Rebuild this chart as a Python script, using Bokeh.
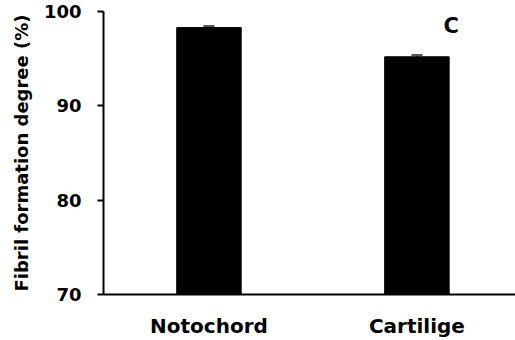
from bokeh.plotting import figure
from bokeh.models import ColumnDataSource, Whisker, TeeHead, FixedTicker, Label, Range1d
from bokeh.embed import file_html
from bokeh.resources import INLINE

# Data
categories = ["Notochord", "Cartilige"]
positions = [1, 2]
values = [98.3, 95.2]
errors = [0.15, 0.2]
y_ticks = [70, 80, 90, 100]

src = ColumnDataSource(dict(
    x=positions,
    top=values,
    lower=[v - e for v, e in zip(values, errors)],
    upper=[v + e for v, e in zip(values, errors)],
))

FONT = "DejaVu Sans"

p = figure(width=515, height=340, output_backend="svg", toolbar_location=None,
           x_range=Range1d(0.493, 2.474), y_range=Range1d(70, 100),
           min_border_left=103, min_border_right=0, min_border_top=11,
           min_border_bottom=46)
p.outline_line_color = None
p.grid.grid_line_color = None
p.background_fill_color = "white"

p.vbar(x="x", top="top", bottom=70, width=0.31, source=src,
       fill_color="black", line_color="black")

eb = Whisker(base="x", lower="lower", upper="upper", source=src,
             line_color="#555555", line_width=1.5,
             upper_head=TeeHead(size=11, line_color="#555555", line_width=2),
             lower_head=TeeHead(size=11, line_color="#555555", line_width=2))
p.add_layout(eb)

# y axis
p.yaxis.ticker = FixedTicker(ticks=y_ticks)
p.yaxis.axis_label = "Fibril formation degree (%)"
p.yaxis.axis_label_text_font = FONT
p.yaxis.axis_label_text_font_style = "bold"
p.yaxis.axis_label_text_font_size = "18px"
p.yaxis.axis_label_text_color = "black"
p.yaxis.axis_label_standoff = 9
p.yaxis.major_label_text_font = FONT
p.yaxis.major_label_text_font_style = "bold"
p.yaxis.major_label_text_font_size = "18px"
p.yaxis.major_label_text_color = "black"
p.yaxis.major_label_standoff = 16
p.yaxis.major_tick_out = 6
p.yaxis.major_tick_in = 0
p.yaxis.minor_tick_line_color = None
p.yaxis.axis_line_width = 2
p.yaxis.major_tick_line_width = 2

# x axis
p.xaxis.ticker = FixedTicker(ticks=positions)
p.xaxis.major_label_overrides = {pos: c for pos, c in zip(positions, categories)}
p.xaxis.major_label_text_font = FONT
p.xaxis.major_label_text_font_style = "bold"
p.xaxis.major_label_text_font_size = "20px"
p.xaxis.major_label_text_color = "black"
p.xaxis.major_label_standoff = 19
p.xaxis.major_tick_line_color = None
p.xaxis.major_tick_out = 0
p.xaxis.minor_tick_line_color = None
p.xaxis.axis_line_width = 2

p.add_layout(Label(x=2.165, y=98.5, text="C", text_font=FONT, text_font_style="bold",
                   text_font_size="21px", text_color="black",
                   text_align="center", text_baseline="middle"))

open("out.html", "w").write(file_html(p, INLINE))
